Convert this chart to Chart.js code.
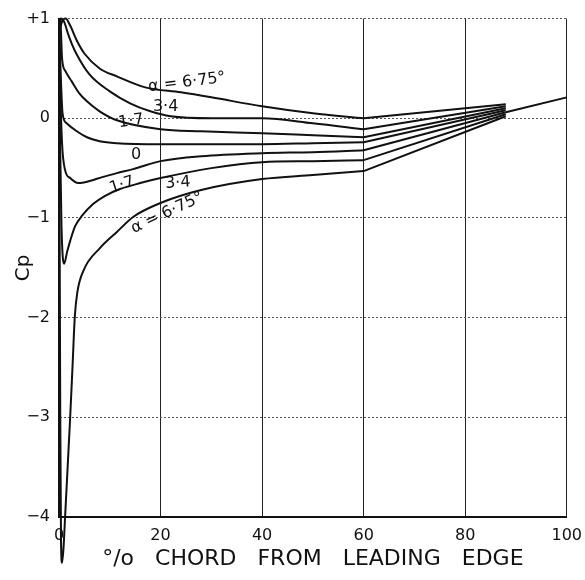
<!DOCTYPE html>
<html>
<head>
<meta charset="utf-8">
<script src="https://cdn.jsdelivr.net/npm/chart.js@4.4.0/dist/chart.umd.min.js"></script>
<style>
  html, body { margin: 0; padding: 0; background: #fff; }
</style>
</head>
<body>
<canvas id="cpChart" width="585" height="580"></canvas>
<script>
// pressure distribution, % chord vs Cp
const xTicks = [0, 20, 40, 60, 80, 100];
const yTicks = [1, 0, -1, -2, -3, -4];
const yTickLabels = ['+1', '0', '\u22121', '\u22122', '\u22123', '\u22124'];

const curveNames = ['\u03b1 6.75 lower', '3.4 lower', '1.7 lower', '0', '1.7 upper', '3.4 upper', '\u03b1 6.75 upper', 'trailing edge'];

const lower675X = [0, 0.6, 1.3, 2.2, 3.5, 5, 8, 11.4, 17, 24, 30, 40, 50, 60, 88];
const lower675Cp = [0.85, 0.97, 1.0, 0.93, 0.78, 0.65, 0.5, 0.42, 0.31, 0.26, 0.21, 0.12, 0.05, 0.0, 0.14];

const lower34X = [0, 0.5, 1.0, 1.7, 2.5, 3.5, 6, 10, 14, 18, 22, 30, 40, 50, 60, 88];
const lower34Cp = [0.92, 1.0, 0.97, 0.86, 0.75, 0.64, 0.44, 0.27, 0.15, 0.07, 0.02, 0.0, 0.0, -0.05, -0.11, 0.12];

const lower17X = [0, 0.25, 0.6, 1.3, 2.5, 4, 5.5, 8, 11.4, 20, 28, 40, 50, 60, 88];
const lower17Cp = [0.95, 1.0, 0.6, 0.47, 0.37, 0.25, 0.17, 0.07, -0.02, -0.11, -0.13, -0.15, -0.17, -0.19, 0.10];

const zeroX = [0, 0.3, 0.7, 1.5, 3.5, 5.5, 8, 11.4, 20, 30, 40, 50, 60, 88];
const zeroCp = [1.0, 0.5, 0.05, -0.05, -0.13, -0.19, -0.23, -0.25, -0.26, -0.26, -0.26, -0.25, -0.24, 0.08];

const upper17X = [0, 0.25, 0.6, 1.2, 2.2, 3.8, 6, 8.5, 11.4, 14.6, 20, 28, 40, 50, 60, 88];
const upper17Cp = [1.0, 0.3, -0.25, -0.52, -0.6, -0.65, -0.63, -0.59, -0.55, -0.51, -0.43, -0.38, -0.35, -0.34, -0.32, 0.06];

const upper34X = [0, 0.2, 0.5, 1.0, 1.6, 2.2, 3.2, 4.5, 6.7, 9, 12, 16, 20, 30, 40, 50, 60, 88];
const upper34Cp = [1.0, -0.2, -1.1, -1.46, -1.34, -1.23, -1.08, -0.98, -0.86, -0.78, -0.71, -0.65, -0.6, -0.5, -0.44, -0.43, -0.42, 0.04];

const upper675X = [0, 0.1, 0.25, 0.4, 0.6, 0.9, 1.2, 1.7, 2.2, 2.7, 3.1, 3.6, 4.8, 8.1, 11.4, 14.6, 20, 28, 40, 50, 60, 88];
const upper675Cp = [0.9, -0.8, -3.0, -4.25, -4.46, -4.3, -4.0, -3.5, -3.0, -2.45, -2.0, -1.75, -1.53, -1.3, -1.14, -0.99, -0.85, -0.72, -0.61, -0.57, -0.53, 0.02];

const trailX = [88, 100];
const trailCp = [0.06, 0.21];

// curve labels, placed in chart units
const noteText = ['\u03b1 = 6\u00b775\u00b0', '3\u00b74', '1\u00b77', '0', '1\u00b77', '3\u00b74', '\u03b1 = 6\u00b775\u00b0'];
const noteX = [25.2, 21, 14.2, 15.2, 12.4, 23.4, 21.3];
const noteCp = [0.36, 0.11, -0.03, -0.37, -0.67, -0.65, -0.95];
const noteAngle = [-7, 0, -8, 0, -18, -4, -25];

const xs = [lower675X, lower34X, lower17X, zeroX, upper17X, upper34X, upper675X, trailX];
const cps = [lower675Cp, lower34Cp, lower17Cp, zeroCp, upper17Cp, upper34Cp, upper675Cp, trailCp];

// smooth part up to 60% chord, straight run from 60% to the trailing edge
const KINK = 60;
const datasets = [];
curveNames.forEach((name, i) => {
    const pts = xs[i].map((x, j) => ({ x: x, y: cps[i][j] }));
    const k = xs[i].indexOf(KINK);
    const parts = k > 0 ? [[pts.slice(0, k + 1), 'monotone'], [pts.slice(k), 'straight']] : [[pts, 'straight']];
    parts.forEach(([data, mode]) => {
        datasets.push({
            label: name,
            data: data,
            borderColor: '#111',
            borderWidth: 2,
            pointRadius: 0,
            fill: false,
            clip: false,
            cubicInterpolationMode: mode === 'monotone' ? 'monotone' : 'default',
            tension: 0
        });
    });
});

const curveLabels = {
    id: 'curveLabels',
    afterDatasetsDraw(chart) {
        const ctx = chart.ctx;
        const x = chart.scales.x;
        const y = chart.scales.y;
        ctx.save();
        ctx.fillStyle = '#111';
        ctx.font = '16px "DejaVu Sans"';
        ctx.textAlign = 'center';
        ctx.textBaseline = 'middle';
        noteText.forEach((t, i) => {
            ctx.save();
            ctx.translate(x.getPixelForValue(noteX[i]), y.getPixelForValue(noteCp[i]));
            ctx.rotate(noteAngle[i] * Math.PI / 180);
            ctx.fillText(t, 0, 0);
            ctx.restore();
        });
        ctx.restore();
    }
};

new Chart(document.getElementById('cpChart').getContext('2d'), {
    type: 'line',
    data: { datasets: datasets },
    plugins: [curveLabels],
    options: {
        responsive: false,
        animation: false,
        layout: { padding: { left: 0, right: 11, top: 16, bottom: 0 } },
        plugins: { legend: { display: false }, tooltip: { enabled: false } },
        scales: {
            x: {
                type: 'linear',
                min: 0,
                max: 100,
                afterBuildTicks: s => { s.ticks = xTicks.map(v => ({ value: v })); },
                afterFit: s => { s.height = 63; },
                ticks: {
                    padding: 3,
                    color: '#111',
                    font: { family: 'DejaVu Sans', size: 16 }
                },
                grid: { color: '#222', lineWidth: 1, drawTicks: true, tickLength: 6, tickColor: 'rgba(0,0,0,0)' },
                border: { color: '#111', width: 2 },
                title: {
                    display: true,
                    text: '\u00b0/o   CHORD   FROM   LEADING   EDGE',
                    color: '#111',
                    font: { family: 'DejaVu Sans', size: 22 },
                    padding: { top: 0, bottom: 8 }
                }
            },
            y: {
                min: -4,
                max: 1,
                afterBuildTicks: s => { s.ticks = yTicks.map(v => ({ value: v })); },
                afterFit: s => { s.width = 59; },
                ticks: {
                    padding: 9,
                    color: '#111',
                    font: { family: 'DejaVu Sans', size: 16 },
                    callback: v => yTickLabels[yTicks.indexOf(v)]
                },
                grid: { color: '#555', lineWidth: 1, drawTicks: false },
                border: { color: '#111', width: 2, dash: [2, 2] },
                title: {
                    display: true,
                    text: 'Cp',
                    color: '#111',
                    font: { family: 'DejaVu Sans', size: 20 },
                    padding: { top: 12, bottom: 0 }
                }
            }
        }
    }
});
</script>
</body>
</html>
